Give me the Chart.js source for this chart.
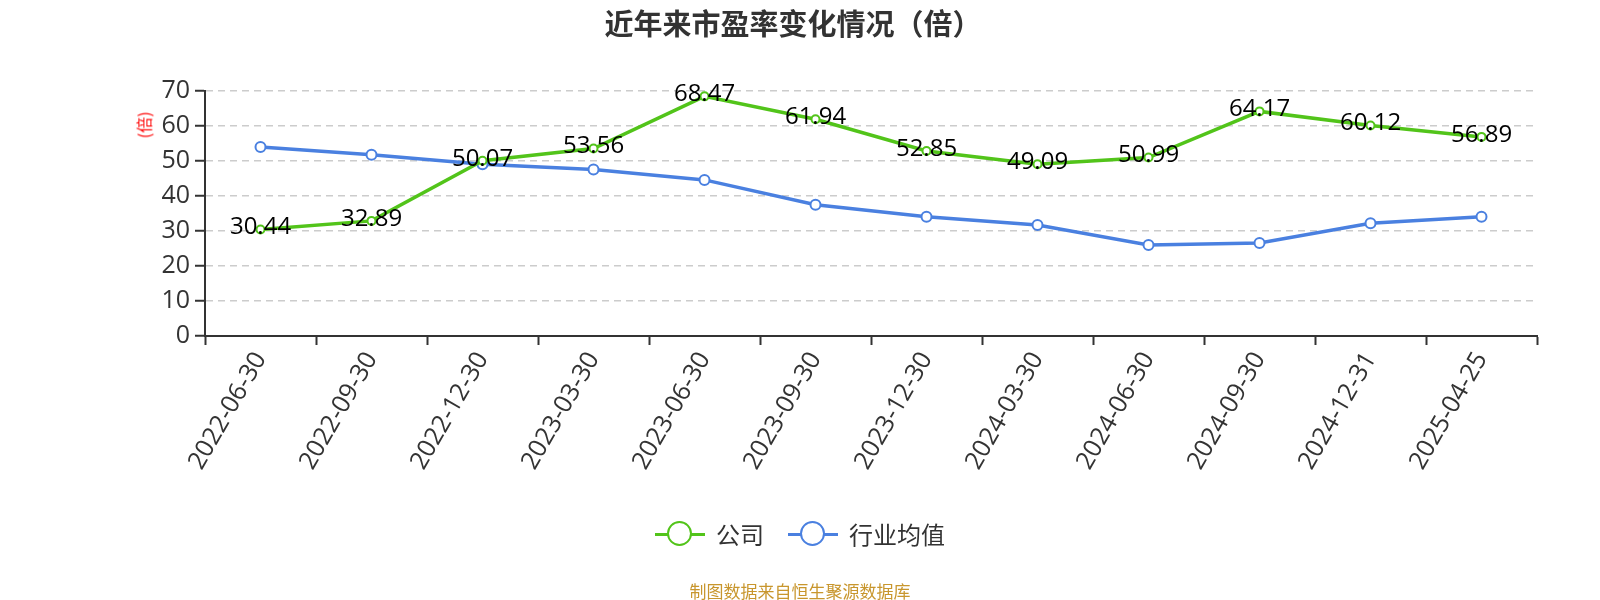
<!DOCTYPE html>
<html>
<head>
<meta charset="utf-8">
<script src="https://cdn.jsdelivr.net/npm/chart.js@4.4.1/dist/chart.umd.min.js"></script>
<style>
    html, body { margin: 0; padding: 0; background: #fff; }
    #wrap { position: relative; width: 1600px; height: 600px; font-family: "Open Sans", "Noto Sans CJK SC", sans-serif; }
    #peChart { position: absolute; left: 0; top: 0; }
    .title { position: absolute; left: 0; width: 1586px; top: 7px; line-height: 30px; text-align: center; font-size: 29px; font-weight: bold; color: #333; font-family: "Noto Sans CJK SC", sans-serif; }
    .unit { position: absolute; left: 130px; top: 113px; color: #f00; font-size: 16px; transform: rotate(-90deg); font-family: "Noto Sans CJK SC", sans-serif; }
    .legend { position: absolute; top: 519px; left: 0; width: 1600px; display: flex; justify-content: center; gap: 24px; font-size: 24px; line-height: 30px; color: #333; font-family: "Noto Sans CJK SC", sans-serif; }
    .legend .item { display: flex; align-items: center; }
    .legend .mark { position: relative; width: 50px; height: 26px; margin-right: 11px; }
    .legend .mark .ln { position: absolute; left: 0; right: 0; top: 12px; height: 3px; }
    .legend .mark .dot { position: absolute; left: 12px; top: 0px; width: 21px; height: 21px; border-radius: 50%; background: #fff; border: 2.5px solid; }
    .source { position: absolute; left: 0; width: 1600px; top: 578px; text-align: center; font-size: 17px; color: #c8962d; font-family: "Noto Sans CJK SC", sans-serif; }
</style>
</head>
<body>
<div id="wrap">
    <canvas id="peChart" width="1600" height="600"></canvas>
    <div class="title">近年来市盈率变化情况（倍）</div>
    <div class="unit">(倍)</div>
    <div class="legend" id="legend"></div>
    <div class="source">制图数据来自恒生聚源数据库</div>
</div>
<script>
const categories = ['2022-06-30', '2022-09-30', '2022-12-30', '2023-03-30', '2023-06-30', '2023-09-30',
    '2023-12-30', '2024-03-30', '2024-06-30', '2024-09-30', '2024-12-31', '2025-04-25'];
const companyPE = [30.44, 32.89, 50.07, 53.56, 68.47, 61.94, 52.85, 49.09, 50.99, 64.17, 60.12, 56.89];
const industryPE = [54.0, 51.8, 49.1, 47.6, 44.6, 37.5, 34.1, 31.7, 26.0, 26.6, 32.2, 34.1];
const yTicks = [0, 10, 20, 30, 40, 50, 60, 70];

const GREEN = '#52c41a';
const BLUE = '#4a80e0';

// value labels on the company line
const valueLabels = {
    id: 'valueLabels',
    afterDatasetsDraw(chart) {
        const { ctx } = chart;
        const meta = chart.getDatasetMeta(0);
        ctx.save();
        ctx.font = '24px "Open Sans", sans-serif';
        ctx.fillStyle = '#000';
        ctx.textAlign = 'center';
        ctx.textBaseline = 'middle';
        meta.data.forEach((pt, i) => {
            ctx.fillText(companyPE[i].toFixed(2), pt.x, pt.y - 2);
        });
        ctx.restore();
    }
};

const chart = new Chart(document.getElementById('peChart').getContext('2d'), {
    type: 'line',
    data: {
        labels: categories,
        datasets: [{
            label: '公司',
            data: companyPE,
            borderColor: GREEN,
            borderWidth: 3.5,
            pointRadius: 4,
            pointBorderWidth: 2,
            pointBackgroundColor: '#fff',
            pointBorderColor: GREEN,
            tension: 0
        }, {
            label: '行业均值',
            data: industryPE,
            borderColor: BLUE,
            borderWidth: 3.5,
            pointRadius: 5,
            pointBorderWidth: 2,
            pointBackgroundColor: '#fff',
            pointBorderColor: BLUE,
            tension: 0
        }]
    },
    options: {
        responsive: false,
        animation: false,
        layout: { padding: { top: 91, right: 63, left: 0, bottom: 0 } },
        plugins: {
            legend: { display: false },
            title: { display: false },
            tooltip: { enabled: false }
        },
        scales: {
            x: {
                offset: true,
                afterFit: s => { s.height = 264; },
                border: { color: '#333', width: 2 },
                grid: { offset: true, drawOnChartArea: false, tickLength: 9, tickColor: '#333', tickWidth: 2 },
                ticks: {
                    autoSkip: false,
                    maxRotation: 60,
                    minRotation: 60,
                    padding: 2,
                    color: '#333',
                    font: { size: 25, family: '"Open Sans", sans-serif' }
                }
            },
            y: {
                min: 0,
                max: 70,
                afterFit: s => { s.width = 205; },
                afterBuildTicks: s => { s.ticks = yTicks.map(v => ({ value: v })); },
                border: { color: '#333', width: 2, dash: [7, 5] },
                grid: {
                    color: '#ccc',
                    lineWidth: 1.5,
                    tickLength: 10,
                    tickColor: '#333',
                    tickWidth: 2,
                    tickBorderDash: []
                },
                ticks: {
                    padding: 5,
                    color: '#333',
                    font: { size: 25, family: '"Open Sans", sans-serif' }
                }
            }
        }
    },
    plugins: [valueLabels]
});

const legend = document.getElementById('legend');
chart.data.datasets.forEach(ds => {
    const item = document.createElement('div');
    item.className = 'item';
    item.innerHTML = `<span class="mark"><span class="ln" style="background:${ds.borderColor}"></span>` +
        `<span class="dot" style="border-color:${ds.borderColor}"></span></span><span>${ds.label}</span>`;
    legend.appendChild(item);
});
</script>
</body>
</html>
